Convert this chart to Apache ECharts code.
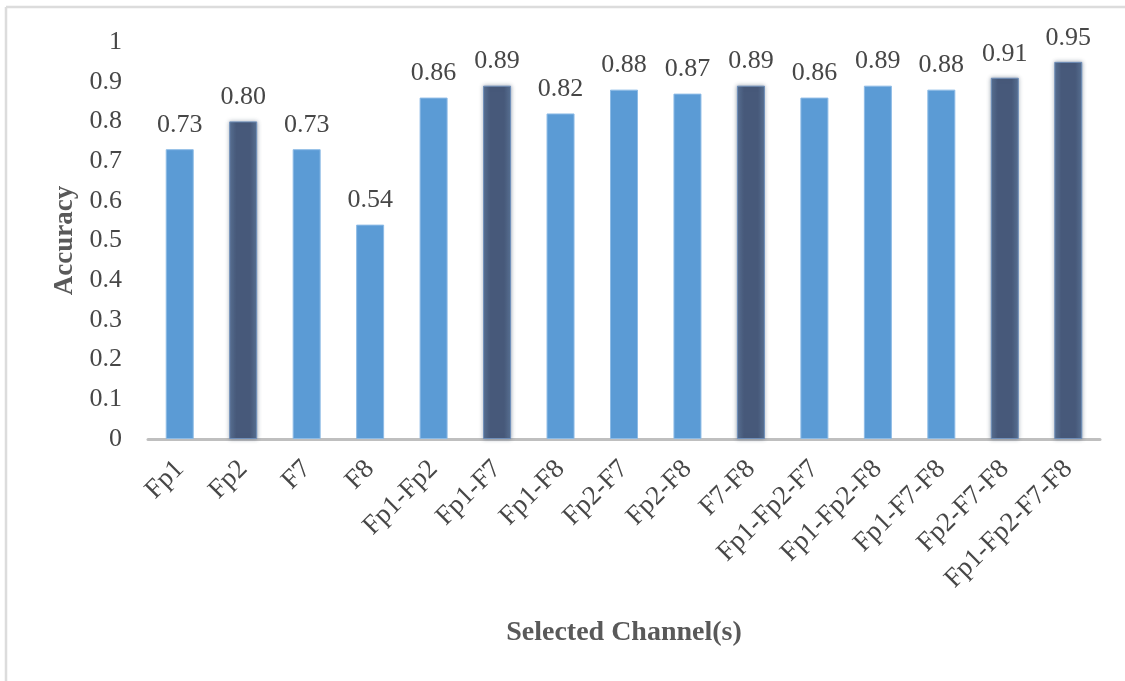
<!DOCTYPE html>
<html>
<head>
<meta charset="utf-8">
<title>Accuracy by Selected Channel(s)</title>
<script src="https://cdn.jsdelivr.net/npm/echarts@6/dist/echarts.min.js"></script>
<style>
  html, body { margin: 0; padding: 0; background: #ffffff; }
  #chart { width: 1125px; height: 681px; }
</style>
</head>
<body>
<div id="chart"></div>
<script>
// Channel combinations on the x axis
const categories = ['Fp1', 'Fp2', 'F7', 'F8', 'Fp1-Fp2', 'Fp1-F7', 'Fp1-F8', 'Fp2-F7',
  'Fp2-F8', 'F7-F8', 'Fp1-Fp2-F7', 'Fp1-Fp2-F8', 'Fp1-F7-F8', 'Fp2-F7-F8', 'Fp1-Fp2-F7-F8'];
// Classification accuracy for each combination
const accuracy = [0.73, 0.80, 0.73, 0.54, 0.86, 0.89, 0.82, 0.88, 0.87, 0.89, 0.86, 0.89, 0.88, 0.91, 0.95];
// Combinations drawn in the dark highlight colour
const highlighted = ['Fp2', 'Fp1-F7', 'F7-F8', 'Fp2-F7-F8', 'Fp1-Fp2-F7-F8'];
// Y-axis ticks
const yMin = 0, yMax = 1, yStep = 0.1;

const SERIF = '"Liberation Serif", "Times New Roman", "DejaVu Serif", serif';
const TEXT = '#474747';

const lightStyle = {
  color: '#5B9BD5',
  borderColor: '#8DBBE6',
  borderWidth: 1
};
const darkStyle = {
  color: {
    type: 'linear', x: 0, y: 0, x2: 1, y2: 0,
    colorStops: [
      { offset: 0, color: '#5A7396' },
      { offset: 0.25, color: '#47597A' },
      { offset: 0.75, color: '#47597A' },
      { offset: 1, color: '#5A7396' }
    ]
  },
  borderColor: '#6F8FBA',
  borderWidth: 1,
  shadowBlur: 4,
  shadowColor: 'rgba(68,84,106,0.45)'
};

const barData = accuracy.map((v, i) => ({
  value: v,
  itemStyle: highlighted.includes(categories[i]) ? darkStyle : lightStyle
}));

const chart = echarts.init(document.getElementById('chart'), null, { renderer: 'canvas' });
chart.setOption({
  backgroundColor: '#ffffff',
  animation: false,
  grid: { left: 148, right: 25, top: 42, bottom: 242, containLabel: false },
  graphic: [
    { type: 'line', shape: { x1: 6, y1: 7, x2: 6, y2: 681 }, style: { stroke: '#DCDCDC', lineWidth: 2.5 } },
    { type: 'line', shape: { x1: 6, y1: 7, x2: 1125, y2: 7 }, style: { stroke: '#DCDCDC', lineWidth: 2.5 } }
  ],
  xAxis: {
    type: 'category',
    data: categories,
    name: 'Selected Channel(s)',
    nameLocation: 'middle',
    nameGap: 180,
    nameTextStyle: { fontFamily: SERIF, fontSize: 28, fontWeight: 'bold', color: '#595959' },
    axisLine: { show: true, lineStyle: { color: '#BFBFBF', width: 3 } },
    axisTick: { show: false },
    axisLabel: {
      interval: 0,
      rotate: 45,
      margin: 26,
      fontFamily: SERIF,
      fontSize: 27,
      color: TEXT
    }
  },
  yAxis: {
    type: 'value',
    min: yMin,
    max: yMax,
    interval: yStep,
    name: 'Accuracy',
    nameLocation: 'middle',
    nameGap: 68,
    nameRotate: 90,
    nameTextStyle: { fontFamily: SERIF, fontSize: 27, fontWeight: 'bold', color: '#595959' },
    axisLine: { show: false },
    axisTick: { show: false },
    splitLine: { show: false },
    axisLabel: {
      margin: 26,
      fontFamily: SERIF,
      fontSize: 26,
      color: TEXT
    }
  },
  series: [{
    type: 'bar',
    data: barData,
    barWidth: 28,
    label: {
      show: true,
      position: 'top',
      distance: 11,
      fontFamily: SERIF,
      fontSize: 26,
      color: TEXT,
      formatter: p => p.value.toFixed(2)
    }
  }]
});
</script>
</body>
</html>
